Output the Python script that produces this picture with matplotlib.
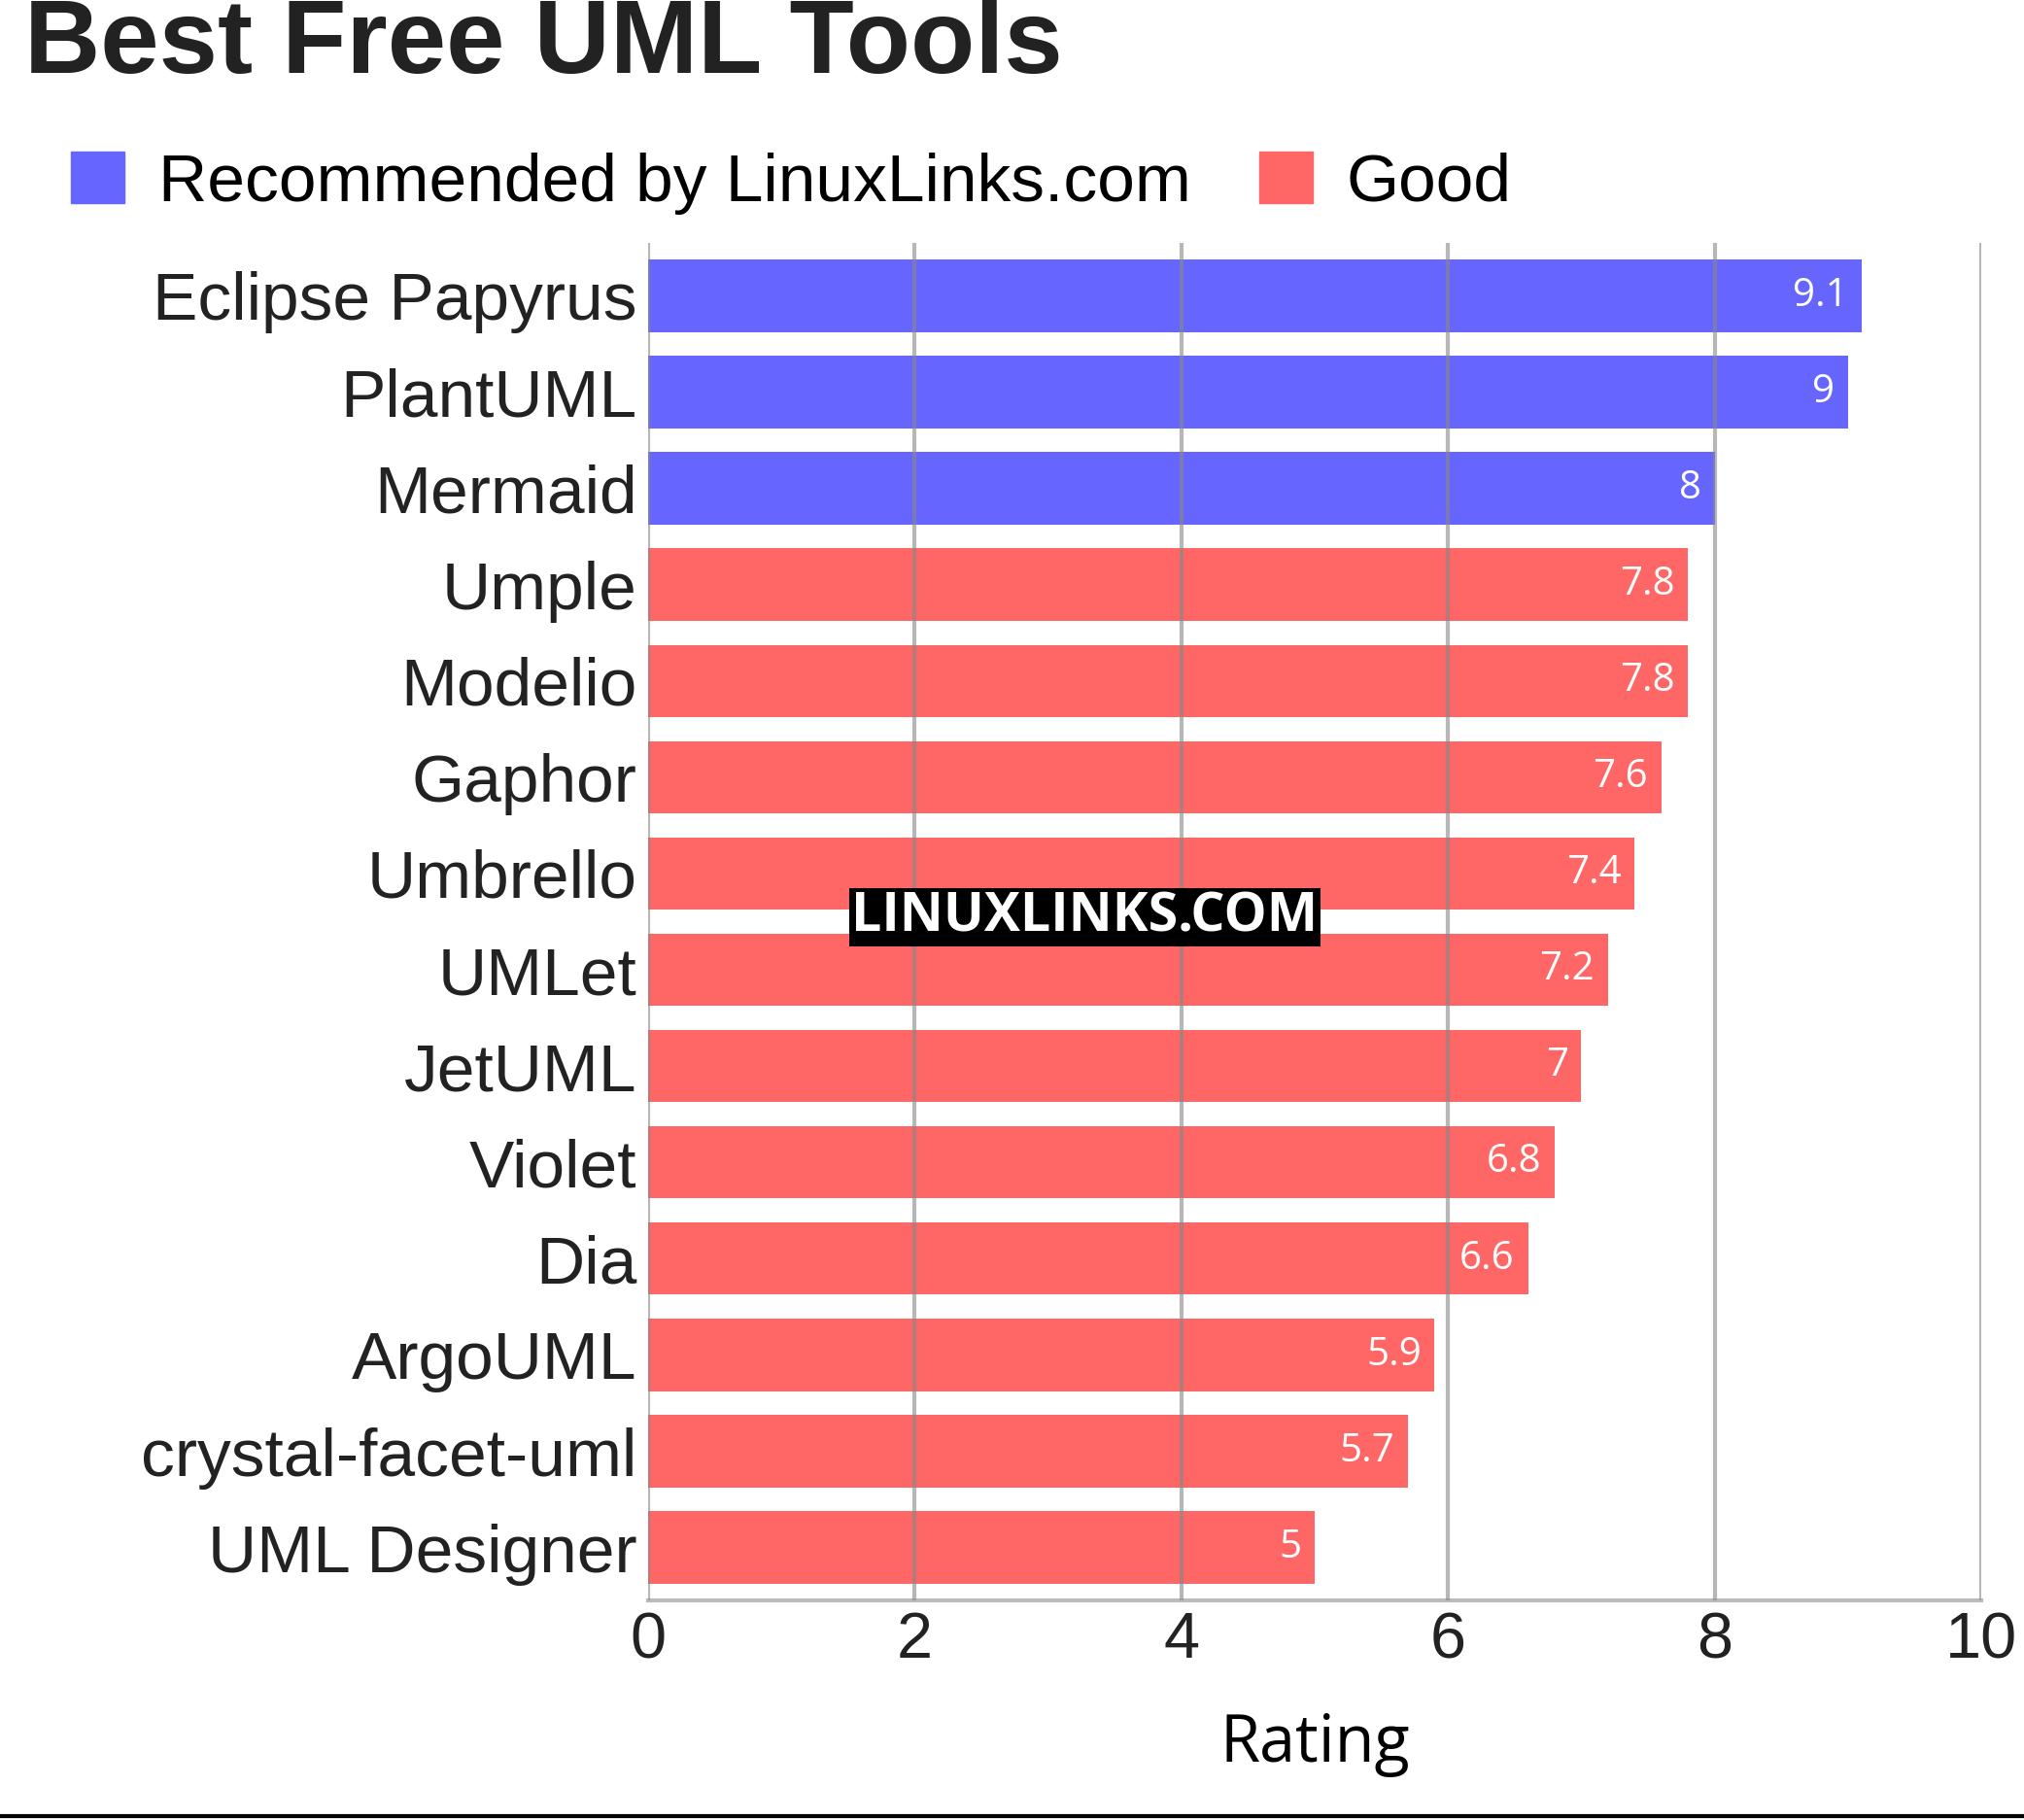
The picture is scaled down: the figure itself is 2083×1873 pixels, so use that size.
import matplotlib.pyplot as plt
from matplotlib.patches import Patch
from matplotlib.lines import Line2D

# Data
tools = ['Eclipse Papyrus', 'PlantUML', 'Mermaid', 'Umple', 'Modelio', 'Gaphor',
         'Umbrello', 'UMLet', 'JetUML', 'Violet', 'Dia', 'ArgoUML',
         'crystal-facet-uml', 'UML Designer']
ratings = [9.1, 9, 8, 7.8, 7.8, 7.6, 7.4, 7.2, 7, 6.8, 6.6, 5.9, 5.7, 5]
groups = ['rec', 'rec', 'rec'] + ['good'] * 11
colors = {'rec': '#6666ff', 'good': '#ff6666'}

fig = plt.figure(figsize=(20.83, 18.73), dpi=100)
ax = fig.add_axes([0.320, 0.1206, 0.659, 0.746])

ypos = list(range(len(tools)))[::-1]
ax.barh(ypos, ratings, height=0.75, color=[colors[g] for g in groups], zorder=1)
for y, v in zip(ypos, ratings):
    ax.text(v - 0.1, y, f'{v:g}', ha='right', va='center', color='white',
            fontsize=29, family='Open Sans', zorder=3)

ax.set_xlim(0, 10)
ax.set_ylim(-0.55, len(tools) - 0.45)
ax.set_yticks(ypos)
ax.set_yticklabels(tools, fontsize=50, family='Liberation Sans', color='#222222')
ax.set_xticks(range(0, 11, 2))
ax.set_xticklabels([str(x) for x in range(0, 11, 2)], fontsize=48,
                   family='Liberation Sans', color='#222222')
ax.tick_params(length=0, pad=8)
ax.grid(axis='x', color='#888888', alpha=0.6, linewidth=3, zorder=2)
ax.set_axisbelow(False)
for s in ['top', 'right', 'left']:
    ax.spines[s].set_visible(False)
ax.spines['bottom'].set_color('#bbbbbb')
ax.spines['bottom'].set_linewidth(3)
ax.set_xlabel('Rating', fontsize=48, family='Open Sans', labelpad=30)

fig.text(0.012, 0.975, 'Best Free UML Tools', fontsize=78, fontweight='bold',
         family='Liberation Sans', color='#222222', va='center')
handles = [Patch(color=colors['rec']), Patch(color=colors['good'])]
fig.legend(handles, ['Recommended by LinuxLinks.com', 'Good'], loc='upper left',
           bbox_to_anchor=(0.005, 0.95), ncol=2, frameon=False,
           prop={'family': 'Liberation Sans', 'size': 50},
           handlelength=0.8, handleheight=0.8, handletextpad=0.5, columnspacing=1.0)

fig.text(0.536, 0.496, 'LINUXLINKS.COM', fontsize=40, fontweight='bold',
         family='Open Sans', color='white', ha='center', va='center',
         bbox=dict(facecolor='black', edgecolor='none', pad=2))

fig.add_artist(Line2D([0, 1], [0.002, 0.002], color='black', linewidth=3,
                      transform=fig.transFigure))

fig.savefig('out.png', dpi=100)
